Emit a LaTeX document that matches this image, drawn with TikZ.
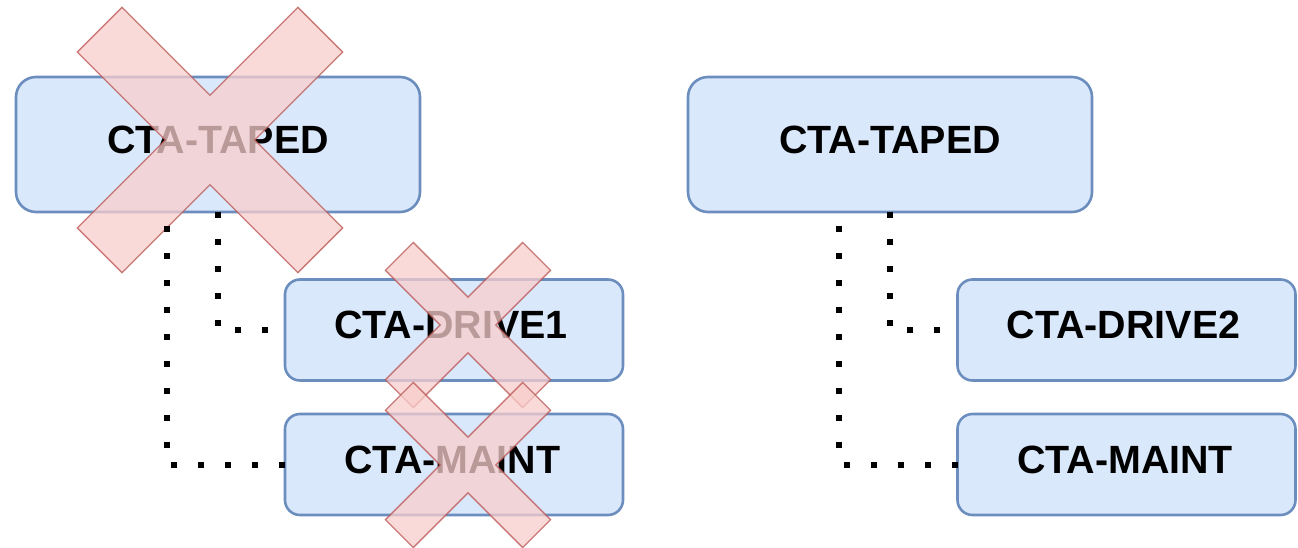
\documentclass[tikz,border=0pt]{standalone}
\usepackage{fontspec}
\setmainfont{Liberation Sans}
\definecolor{boxfill}{HTML}{DAE8FC}
\definecolor{boxline}{HTML}{6C8EBF}
\definecolor{xfill}{HTML}{F8CECC}
\definecolor{xline}{HTML}{B85450}
\tikzset{
  box/.style={draw=boxline, fill=boxfill, line width=2.6pt, rounded corners=#1,
    inner sep=0pt, outer sep=0pt, text depth=10pt,
    font=\bfseries\fontsize{39.4}{41}\selectfont},
  bigbox/.style={box=20pt, minimum width=404pt, minimum height=135pt},
  smallbox/.style={box=15pt, minimum width=338pt, minimum height=101pt},
  dotline/.style={line width=6pt, dash pattern=on 6pt off 21pt},
  crossmark/.pic={
    \fill[xfill, draw=xline, line width=1.3pt, opacity=0.75, rotate=45]
      (19.7,97) -- (19.7,19.7) -- (97,19.7) -- (97,-19.7) -- (19.7,-19.7)
      -- (19.7,-97) -- (-19.7,-97) -- (-19.7,-19.7) -- (-97,-19.7)
      -- (-97,19.7) -- (-19.7,19.7) -- (-19.7,97) -- cycle;
  }
}
\begin{document}
\begin{tikzpicture}[x=1pt, y=-1pt]
  \fill[white] (0,0) rectangle (1298,548);
  \useasboundingbox (0,0) rectangle (1298,548);

  % left group (removed)
  \node[bigbox]   (tapedL) at (218,144.5)  {CTA-TAPED};
  \node[smallbox] (drive1) at (454,330)    {\hspace*{-6pt}CTA-DRIVE1};
  \node[smallbox] (maintL) at (454,464.5)  {\hspace*{-3pt}CTA-MAINT};

  % right group
  \node[bigbox]   (tapedR) at (890,144.5)  {CTA-TAPED};
  \node[smallbox] (drive2) at (1126.5,330)   {\hspace*{-6pt}CTA-DRIVE2};
  \node[smallbox] (maintR) at (1126.5,464.5) {\hspace*{-3pt}CTA-MAINT};

  % crosses over the removed items
  \pic[scale=1.608] at (210,140) {crossmark};
  \pic at (468,325) {crossmark};
  \pic at (468,465) {crossmark};

  % dotted links
  \draw[dotline] (tapedL.south) |- (drive1.west);
  \draw[dotline] (maintL.west) -| ([xshift=-51pt]tapedL.south);
  \draw[dotline] (tapedR.south) |- (drive2.west);
  \draw[dotline] (maintR.west) -| ([xshift=-51pt]tapedR.south);
\end{tikzpicture}
\end{document}
